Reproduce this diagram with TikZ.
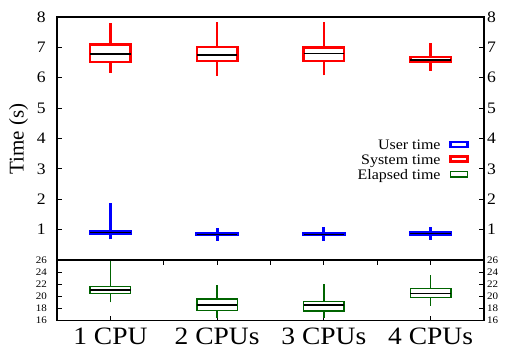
\documentclass[tikz,border=0pt]{standalone}
\usepackage{fontspec}
\setmainfont[FakeStretch=1.1]{Liberation Serif}
\newfontfamily\ylfont{Liberation Serif}
\definecolor{dgreen}{RGB}{0,100,0}
\newcommand\bplot[7]{%
  \draw[#1] (#2,#3) -- (#2,#4) (#2,#6) -- (#2,#7);
  \draw[#1] ({#2-0.19},#4) rectangle ({#2+0.19},#6);
  \draw[medl] ({#2-0.19},#5) -- ({#2+0.19},#5);
}
\begin{document}
\begin{tikzpicture}[x=1pt,y=1pt,
  framel/.style={line width=1.2pt},
  tickl/.style={line width=0.8pt},
  redb/.style={draw=red, line width=2.4pt},
  blueb/.style={draw=blue, line width=2.8pt},
  greenb/.style={draw=dgreen, line width=1.4pt},
  medl/.style={draw=black, line width=1.3pt},
  bigtick/.style={font=\fontsize{16}{18}\selectfont, inner sep=0pt},
  smalltick/.style={font=\fontsize{10}{11}\selectfont, inner sep=0pt},
  xlab/.style={font=\fontsize{25}{28}\selectfont, inner sep=0pt, anchor=base},
  leg/.style={font=\fontsize{14.5}{16}\selectfont, inner sep=0pt, anchor=base east}]
\useasboundingbox (0,0) rectangle (507,352);

% ---------- top panel ----------
\begin{scope}[shift={(3.625pt,92pt)}, x=106.75pt, y=30.375pt]
  \foreach \v in {1,...,7} {
    \draw[tickl] (0.5,\v) -- ++(5pt,0);
    \draw[tickl] (4.5,\v) -- ++(-5pt,0);
  }
  \foreach \v in {1,...,8} {
    \node[bigtick, anchor=east] (yl\v) at ([xshift=-11pt]0.5,\v) {\v};
    \node[bigtick, anchor=west] (yr\v) at ([xshift=3pt]4.5,\v) {\v};
  }
  \bplot{redb}{1}{6.17}{6.51}{6.78}{7.10}{7.79}
  \bplot{redb}{2}{6.06}{6.55}{6.75}{7.01}{7.84}
  \bplot{redb}{3}{6.08}{6.55}{6.79}{7.00}{7.84}
  \bplot{redb}{4}{6.23}{6.52}{6.58}{6.68}{7.13}
  \bplot{blueb}{1}{0.68}{0.87}{0.91}{0.95}{1.87}
  \bplot{blueb}{2}{0.63}{0.82}{0.85}{0.88}{1.06}
  \bplot{blueb}{3}{0.63}{0.82}{0.85}{0.88}{1.07}
  \bplot{blueb}{4}{0.66}{0.85}{0.88}{0.91}{1.10}
\end{scope}

% ---------- bottom panel ----------
\begin{scope}[shift={(3.625pt,-65.82pt)}, x=106.75pt, y=6.07pt]
  \foreach \v in {18,20,22,24} {
    \draw[tickl] (0.5,\v) -- ++(5pt,0);
    \draw[tickl] (4.5,\v) -- ++(-5pt,0);
  }
  \foreach \v in {16,18,...,26} {
    \node[smalltick, anchor=east] (bl\v) at ([xshift=-10pt]0.5,\v) {\v};
    \node[smalltick, anchor=west] (br\v) at ([xshift=3pt]4.5,\v) {\v};
  }
  \foreach \c in {1,1.5,...,4} {
    \draw[tickl] (\c,26) -- ++(0,-5pt);
  }
  \foreach \c in {1,2,3,4} {
    \draw[tickl] (\c,16) -- ++(0,5pt);
  }
  \bplot{greenb}{1}{19.03}{20.45}{21.06}{21.6}{26}
  \bplot{greenb}{2}{16.4}{17.65}{18.6}{19.6}{21.9}
  \bplot{greenb}{3}{16.4}{17.6}{18.6}{19.13}{22.0}
  \bplot{greenb}{4}{18.5}{19.8}{20.5}{21.27}{23.6}
\end{scope}

% ---------- frame ----------
\draw[framel] (57,31.3) rectangle (484,335);
\draw[framel] (57,92) -- (484,92);

% ---------- axis labels ----------
\node[font=\ylfont\fontsize{21}{24}\selectfont, rotate=90, inner sep=0pt] (ylab) at (18.5,213) {Time (s)};
\node[xlab] (x1) at (110.4,7.3) {1 CPU};
\node[xlab] (x2) at (217.1,7.3) {2 CPUs};
\node[xlab] (x3) at (323.9,7.3) {3 CPUs};
\node[xlab] (x4) at (430.6,7.3) {4 CPUs};

% ---------- legend ----------
\node[leg] (l1) at (440.7,202.4) {User time};
\node[leg] (l2) at (440.7,187.8) {System time};
\node[leg] (l3) at (440.7,172.8) {Elapsed time};
\draw[blue, line width=2.2pt] (450.5,205.3) rectangle (467.5,210.3);
\draw[red, line width=2.2pt] (450.5,190.5) rectangle (467.5,195.5);
\draw[dgreen, line width=1.2pt] (450.5,175) rectangle (467.5,180.5);
\end{tikzpicture}
\end{document}
